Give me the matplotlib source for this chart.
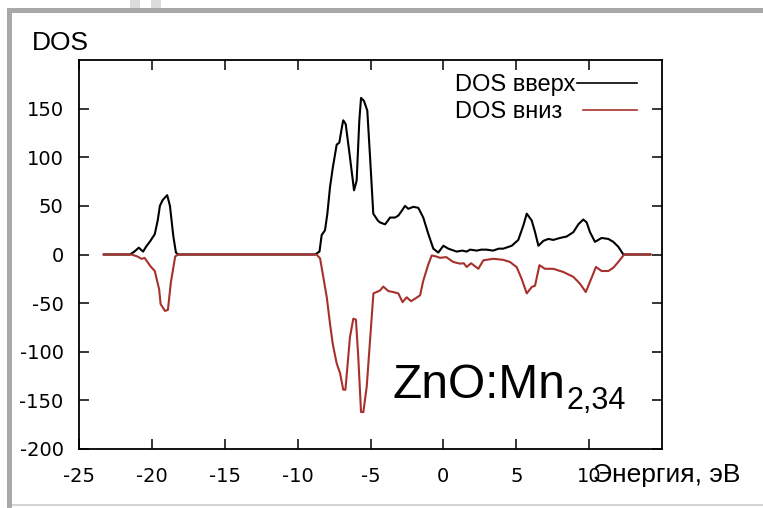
import matplotlib
matplotlib.use("Agg")
import matplotlib.pyplot as plt
from matplotlib.lines import Line2D
from matplotlib.patches import Rectangle

# spin-up DOS (black)
e_up = [-23.3, -21.5, -21.2, -20.9, -20.6, -20.4, -20.1, -19.8, -19.6, -19.45, -19.26,
        -18.95, -18.76, -18.53, -18.35, -18.2, -8.8, -8.5, -8.35, -8.12, -7.96, -7.78,
        -7.59, -7.32, -7.14, -6.95, -6.87, -6.7, -6.41, -6.13, -5.95, -5.77, -5.65, -5.45,
        -5.22, -5.03, -4.81, -4.5, -4.35, -4.0, -3.8, -3.66, -3.32, -3.09, -2.85, -2.63,
        -2.41, -2.06, -1.72, -1.38, -1.03, -0.69, -0.35, 0.0, 0.34, 0.91, 1.3, 1.6, 1.83,
        2.29, 2.6, 2.97, 3.4, 3.8, 4.11, 4.69, 5.14, 5.49, 5.72, 6.06, 6.29, 6.52, 6.86,
        7.2, 7.54, 8.0, 8.46, 8.92, 9.26, 9.6, 9.83, 10.06, 10.4, 10.86, 11.32, 11.66,
        12.0, 12.35, 14.2]
dos_up = [0, 0, 3, 7, 3, 8, 14, 21, 35, 50, 56,
          61, 50, 19, 2, 0, 0, 3, 20, 25, 42, 69,
          89, 113, 115, 132, 138, 134, 100, 66, 76, 137, 161, 158,
          148, 100, 42, 35, 33, 31, 35, 38, 38, 40, 45, 50,
          47, 49, 48, 38, 21, 6, 2, 9, 6, 3, 4, 3, 5,
          4, 5, 5, 4, 6, 6, 9, 15, 30, 42, 35, 23, 9, 14,
          16, 15, 17, 18.5, 23, 31, 36, 33, 23, 13, 17, 16, 13,
          8, 0, 0]

# spin-down DOS (red)
e_dn = [-23.3, -21.4, -21.0, -20.7, -20.5, -20.1, -19.8, -19.5, -19.4, -19.1, -18.9,
        -18.7, -18.4, -18.2, -8.7, -8.46, -8.24, -8.0, -7.78, -7.59, -7.32, -7.09,
        -6.87, -6.72, -6.41, -6.18, -6.0, -5.84, -5.65, -5.49, -5.26, -5.03, -4.8,
        -4.58, -4.35, -4.12, -3.78, -3.44, -3.09, -2.8, -2.52, -2.22, -1.95, -1.6,
        -1.38, -1.03, -0.8, -0.5, -0.23, 0.2, 0.68, 1.14, 1.4, 1.6, 1.9, 2.4, 2.74,
        3.43, 4.11, 4.57, 5.03, 5.37, 5.72, 6.06, 6.29, 6.59, 6.97, 7.54, 8.23, 8.92,
        9.37, 9.77, 10.06, 10.47, 10.86, 11.32, 11.66, 12.0, 12.4, 14.2]
dos_dn = [0, 0, -2, -4.5, -3.5, -12, -17, -36, -51, -58, -57,
          -29, -2, 0, 0, -4, -23, -44, -71, -92, -112, -122,
          -139, -139, -85, -66, -67, -105, -162, -162, -136, -88, -40,
          -38.6, -37, -33, -37.6, -38.6, -40, -49, -44, -48, -45.5, -42,
          -27, -10, -1, -2, -3.4, -2.7, -7.7, -9.4, -9, -12.8, -9, -14.7, -6,
          -4.4, -5.5, -7.7, -13, -25, -40, -33.5, -32, -11, -14.7, -14.7, -18, -23,
          -30, -38.6, -28, -12.8, -17, -17, -13.6, -7.7, 0, 0]

x_ticks = [-25, -20, -15, -10, -5, 0, 5, 10]
y_ticks = [-200, -150, -100, -50, 0, 50, 100, 150]

W, H = 763, 508


def fx(x):
    return x / W


def fy(y):
    return 1 - y / H


sans = "Liberation Sans"

fig = plt.figure(figsize=(W / 100, H / 100), dpi=100)
fig.patch.set_facecolor("white")

# grey slide frame
fig.add_artist(Rectangle((fx(7), fy(13)), fx(W - 7), 5 / H, color="#a8a8a8", lw=0))
fig.add_artist(Rectangle((fx(7), 0), 5 / W, fy(13), color="#a8a8a8", lw=0))
fig.add_artist(Rectangle((fx(12), fy(506)), fx(W - 12), 2 / H, color="#d4d4d4", lw=0))
fig.add_artist(Rectangle((fx(130), fy(8)), 10 / W, 8 / H, color="#dcdcdc", lw=0))
fig.add_artist(Rectangle((fx(151), fy(8)), 10 / W, 8 / H, color="#dcdcdc", lw=0))

ax = fig.add_axes([fx(79), fy(449), (662 - 79) / W, (449 - 60) / H])
ax.plot(e_up, dos_up, color="black", lw=1.5)
ax.plot(e_dn, dos_dn, color="#a8302c", lw=1.5)

ax.set_xlim(-25, 15)
ax.set_ylim(-200, 200)
ax.set_xticks(x_ticks)
ax.set_yticks(y_ticks)
ax.set_xticklabels([str(t) for t in x_ticks], fontfamily="DejaVu Sans", fontsize=14)
ax.set_yticklabels([str(t) for t in y_ticks], fontfamily="DejaVu Sans", fontsize=14)
ax.tick_params(direction="in", length=7.5, width=1.1, top=True, right=True,
               pad=11, colors="black")
ax.tick_params(axis="x", pad=13)
for s in ax.spines.values():
    s.set_linewidth(1.3)

fig.text(fx(32), fy(50), "DOS", fontfamily=sans, fontsize=19, va="baseline")
fig.text(fx(593), fy(482), "Энергия, эВ", fontfamily=sans, fontsize=19, va="baseline")

# legend, gnuplot style: text then sample line
fig.text(fx(455), fy(91), "DOS вверх", fontfamily=sans, fontsize=17, va="baseline")
fig.text(fx(455), fy(118), "DOS вниз", fontfamily=sans, fontsize=17, va="baseline")
fig.add_artist(Line2D([fx(577), fx(637)], [fy(83), fy(83)], color="black", lw=1.2))
fig.add_artist(Line2D([fx(583), fx(637)], [fy(110), fy(110)], color="#a8302c", lw=1.2))

fig.text(fx(392), fy(398), "ZnO:Mn", fontfamily=sans, fontsize=34.5, va="baseline")
fig.text(fx(566), fy(409), "2,34", fontfamily=sans, fontsize=22, va="baseline")

fig.savefig("out.png", dpi=100)
